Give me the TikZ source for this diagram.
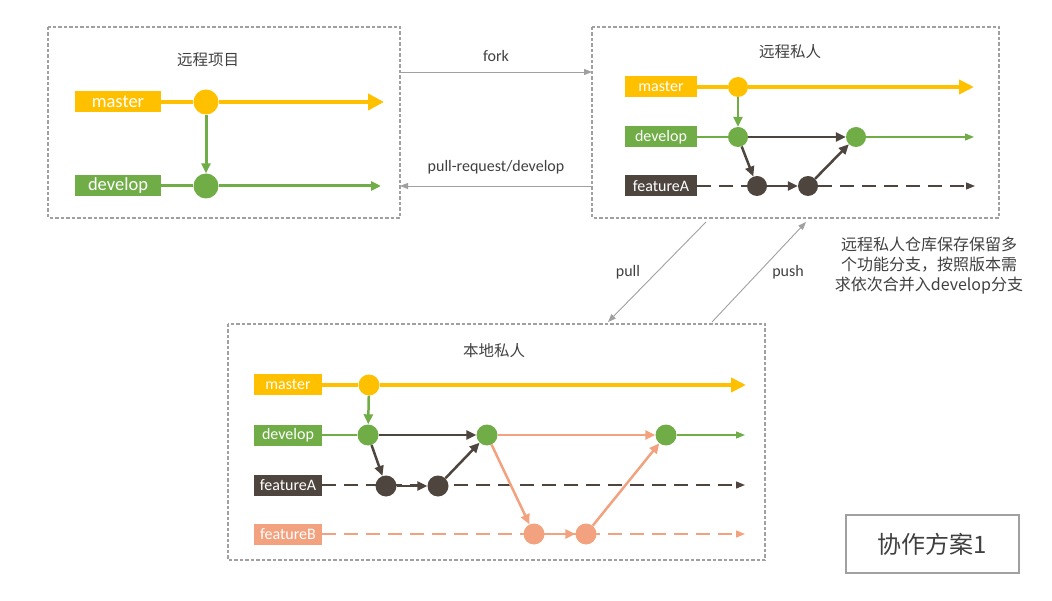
\documentclass[tikz,border=0pt]{standalone}
\usepackage{fontspec}
\setmainfont{Carlito}
\newfontfamily\cjk{Noto Sans CJK SC}
\usetikzlibrary{arrows.meta}
\definecolor{cmaster}{RGB}{255,192,0}
\definecolor{cdevelop}{RGB}{112,173,71}
\definecolor{cfeata}{RGB}{78,69,63}
\definecolor{cfeatb}{RGB}{242,162,126}
\definecolor{cframe}{RGB}{160,160,160}
\definecolor{ctext}{RGB}{64,64,64}
\begin{document}
\begin{tikzpicture}[
    x=1pt,
    y=-1pt,
    frame/.style={draw=cframe, line width=1.6pt, dash pattern=on 3.5pt off 2pt},
    title/.style={text=ctext, font=\cjk\fontsize{15.5}{15.5}\selectfont},
    lab/.style={text=white, inner sep=0pt, minimum height=21pt},
    bigLab/.style={lab, minimum width=86pt, font=\fontsize{18.5}{18.5}\selectfont},
    smallLab/.style={lab, minimum width=70pt, font=\fontsize{16}{16}\selectfont},
    linkText/.style={text=ctext, font=\fontsize{16}{16}\selectfont},
    commit/.style={circle, inner sep=0pt},
    link/.style={draw=cframe, line width=0.9pt, -{Triangle[length=8pt,width=6pt]}},
    mflow/.style={draw=cmaster, line width=4.5pt},
    tipM/.style={-{Triangle[length=16pt,width=16pt]}},
    tipS/.style={-{Triangle[length=10pt,width=9pt]}},
    dashA/.style={draw=cfeata, line width=1.3pt, dash pattern=on 14pt off 8pt},
    dashB/.style={draw=cfeatb, line width=1.3pt, dash pattern=on 14pt off 8pt}
  ]
    \useasboundingbox (0,0) rectangle (1052,601);

    % remote project
    \draw[frame] (48,27) rectangle (400,218);
    \node[title] (tProj) at (208,60) {远程项目};
    \node[bigLab, fill=cmaster] (pM) at (118,102) {master};
    \node[bigLab, fill=cdevelop] (pD) at (118,186) {develop};
    \node[commit, fill=cmaster, minimum size=25pt] (pM1) at (206,102) {};
    \node[commit, fill=cdevelop, minimum size=25pt] (pD1) at (206,186) {};
    \coordinate (pMe) at (384,102);
    \coordinate (pDe) at (381,186);
    \draw[mflow] (pM) -- (pM1);
    \draw[mflow, tipM] (pM1) -- (pMe);
    \draw[cdevelop, line width=3pt] (pD) -- (pD1);
    \draw[cdevelop, line width=3pt, tipS] (pD1) -- (pDe);
    \draw[cdevelop, line width=3pt, tipS] (pM1) -- (pD1);

    % remote private
    \draw[frame] (592,27) rectangle (999,218);
    \node[title] (tRem) at (790,52) {远程私人};
    \node[smallLab, fill=cmaster, minimum width=72pt] (rM) at (661,87) {master};
    \node[smallLab, fill=cdevelop, minimum width=72pt] (rD) at (661,137) {develop};
    \node[smallLab, fill=cfeata, minimum width=72pt] (rA) at (661,186) {featureA};
    \node[commit, fill=cmaster, minimum size=20pt] (rM1) at (738,87) {};
    \node[commit, fill=cdevelop, minimum size=20pt] (rD1) at (738,137) {};
    \node[commit, fill=cdevelop, minimum size=20pt] (rD2) at (856,137) {};
    \node[commit, fill=cfeata, minimum size=20pt] (rA1) at (757,186) {};
    \node[commit, fill=cfeata, minimum size=20pt] (rA2) at (808,186) {};
    \coordinate (rMe) at (974,87);
    \coordinate (rDe) at (974,137);
    \coordinate (rAe) at (975,186);
    \draw[mflow, line width=4pt] (rM) -- (rM1);
    \draw[mflow, line width=4pt, -{Triangle[length=15pt,width=14pt]}] (rM1) -- (rMe);
    \draw[cdevelop, line width=1.3pt] (rD) -- (rD1);
    \draw[cdevelop, line width=1.3pt, -{Triangle[length=9pt,width=7pt]}] (rD2) -- (rDe);
    \draw[dashA] (rA) -- (rA1);
    \draw[dashA, -{Triangle[length=9pt,width=7pt]}] (rA2) -- (rAe);
    \draw[cdevelop, line width=2.5pt, tipS] (rM1) -- (rD1);
    \draw[cfeata, line width=2.5pt, tipS] (rD1) -- (rD2);
    \draw[cfeata, line width=2.5pt, tipS] (rD1) -- (rA1);
    \draw[cfeata, line width=2.5pt, tipS] (rA1) -- (rA2);
    \draw[cfeata, line width=2.5pt, tipS] (rA2) -- (rD2);

    % links between repositories
    \coordinate (fkS) at (400,72);
    \coordinate (fkE) at (592,72);
    \coordinate (prS) at (592,186);
    \coordinate (prE) at (400,186);
    \draw[link] (fkS) -- node[above=7pt, linkText] (lFork) {fork} (fkE);
    \draw[link] (prS) -- node[above=8pt, linkText] (lPr) {pull-request/develop} (prE);
    \coordinate (plS) at (706,222);
    \coordinate (plE) at (608,322);
    \coordinate (psS) at (712,322);
    \coordinate (psE) at (806,222);
    \draw[link] (plS) -- (plE);
    \draw[link] (psS) -- (psE);
    \node[linkText] (lPull) at (628,272) {pull};
    \node[linkText] (lPush) at (788,272) {push};
    \node[text=ctext, font=\cjk\fontsize{16}{20}\selectfont, align=center] (note) at (929,266)
      {远程私人仓库保存保留多\\个功能分支，按照版本需\\求依次合并入develop分支};

    % local private
    \draw[frame] (228,324) rectangle (765,560);
    \node[title] (tLoc) at (494,351) {本地私人};
    \node[smallLab, fill=cmaster, minimum width=68pt] (lM) at (288,385) {master};
    \node[smallLab, fill=cdevelop, minimum width=68pt] (lD) at (288,435) {develop};
    \node[smallLab, fill=cfeata, minimum width=68pt] (lA) at (288,485) {featureA};
    \node[smallLab, fill=cfeatb, minimum width=68pt] (lB) at (288,534) {featureB};
    \node[commit, fill=cmaster, minimum size=21pt] (lM1) at (369,385) {};
    \node[commit, fill=cdevelop, minimum size=21pt] (lD1) at (368,435) {};
    \node[commit, fill=cdevelop, minimum size=21pt] (lD2) at (487,435) {};
    \node[commit, fill=cdevelop, minimum size=21pt] (lD3) at (666,435) {};
    \node[commit, fill=cfeata, minimum size=21pt] (lA1) at (386,486) {};
    \node[commit, fill=cfeata, minimum size=21pt] (lA2) at (438,486) {};
    \node[commit, fill=cfeatb, minimum size=21pt] (lB1) at (534,534) {};
    \node[commit, fill=cfeatb, minimum size=21pt] (lB2) at (586,534) {};
    \coordinate (lMe) at (746,385);
    \coordinate (lDe) at (745,435);
    \coordinate (lAe) at (745,485);
    \coordinate (lBe) at (745,534);
    \draw[mflow, line width=4pt] (lM) -- (lM1);
    \draw[mflow, line width=4pt, -{Triangle[length=15pt,width=14pt]}] (lM1) -- (lMe);
    \draw[cdevelop, line width=1.3pt] (lD) -- (lD1);
    \draw[cdevelop, line width=1.3pt, -{Triangle[length=9pt,width=7pt]}] (lD3) -- (lDe);
    \draw[dashA, -{Triangle[length=9pt,width=7pt]}] (lA) -- (lAe);
    \draw[dashB, -{Triangle[length=9pt,width=7pt]}] (lB) -- (lBe);
    \draw[cdevelop, line width=2.5pt, tipS] (lM1) -- (lD1);
    \draw[cfeata, line width=2.5pt, tipS] (lD1) -- (lD2);
    \draw[cfeata, line width=2.5pt, tipS] (lD1) -- (lA1);
    \draw[cfeata, line width=2.5pt, tipS] (lA1) -- (lA2);
    \draw[cfeata, line width=2.5pt, tipS] (lA2) -- (lD2);
    \draw[cfeatb, line width=2.5pt, tipS] (lD2) -- (lD3);
    \draw[cfeatb, line width=2.5pt, tipS] (lD2) -- (lB1);
    \draw[cfeatb, line width=2.5pt, tipS] (lB1) -- (lB2);
    \draw[cfeatb, line width=2.5pt, tipS] (lB2) -- (lD3);

    % scheme title
    \node[draw=cframe, line width=2pt, minimum width=173pt, minimum height=58pt,
      text=ctext, font=\cjk\fontsize{24}{24}\selectfont] (scheme) at (932,544) {协作方案1};
  \end{tikzpicture}
\end{document}
